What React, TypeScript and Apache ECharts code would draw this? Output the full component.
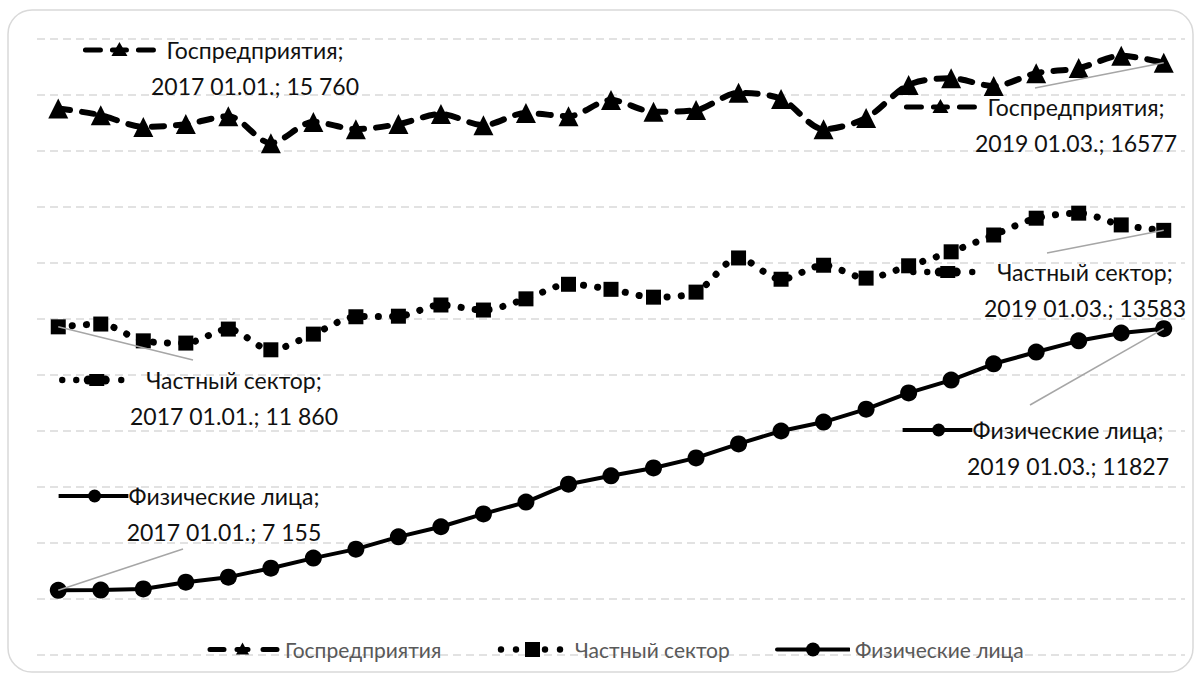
import React, { useEffect, useRef } from "react";
import * as echarts from "echarts";

const categories = [
  "2017 01.01.", "2017 01.02.", "2017 01.03.", "2017 01.04.", "2017 01.05.", "2017 01.06.",
  "2017 01.07.", "2017 01.08.", "2017 01.09.", "2017 01.10.", "2017 01.11.", "2017 01.12.",
  "2018 01.01.", "2018 01.02.", "2018 01.03.", "2018 01.04.", "2018 01.05.", "2018 01.06.",
  "2018 01.07.", "2018 01.08.", "2018 01.09.", "2018 01.10.", "2018 01.11.", "2018 01.12.",
  "2019 01.01.", "2019 01.02.", "2019 01.03.",
];

const govValues = [
  15760, 15640, 15430, 15480, 15620, 15140, 15520, 15390, 15480, 15660, 15460, 15680, 15620, 15910,
  15700, 15730, 16040, 15930, 15390, 15590, 16180, 16300, 16160, 16390, 16480, 16700, 16577,
];
const privateValues = [
  11860, 11910, 11610, 11570, 11820, 11450, 11730, 12040, 12050, 12250, 12160, 12360, 12620, 12530,
  12390, 12480, 13090, 12710, 12960, 12730, 12950, 13200, 13500, 13800, 13890, 13680, 13583,
];
const physValues = [
  7155, 7160, 7180, 7300, 7390, 7550, 7730, 7890, 8110, 8290, 8520, 8730, 9050, 9200, 9340, 9520,
  9770, 10000, 10160, 10390, 10680, 10910, 11200, 11410, 11610, 11750, 11827,
];

const seriesNames = ["Госпредприятия", "Частный сектор", "Физические лица"];

const FONT = "Lato, 'Open Sans', sans-serif";
const LABEL_SIZE = 23;

const svgUrl = (s: string) => "data:image/svg+xml;charset=utf-8," + encodeURIComponent(s);

const govKey = svgUrl(
  "<svg xmlns='http://www.w3.org/2000/svg' width='85' height='20'>" +
    "<path d='M4 10H19 M31 10H45 M57 10H72' stroke='#000' stroke-width='5' stroke-linecap='round' fill='none'/>" +
    "<polygon points='38,2 46,16 30,16' fill='#000'/></svg>"
);
const privKey = svgUrl(
  "<svg xmlns='http://www.w3.org/2000/svg' width='88' height='20'>" +
    "<circle cx='4' cy='10' r='3.2' fill='#000'/><circle cx='18' cy='10' r='3.2' fill='#000'/>" +
    "<circle cx='30' cy='10' r='4.5' fill='#000'/><circle cx='47' cy='10' r='4.5' fill='#000'/>" +
    "<rect x='31' y='4' width='15' height='12' fill='#000'/>" +
    "<circle cx='63' cy='10' r='3.2' fill='#000'/></svg>"
);
const physKey = svgUrl(
  "<svg xmlns='http://www.w3.org/2000/svg' width='72' height='20'>" +
    "<path d='M2 10H72' stroke='#000' stroke-width='4' fill='none'/>" +
    "<circle cx='38' cy='10' r='6.5' fill='#000'/></svg>"
);

// legend icons (75 x 20)
const govLegend = svgUrl(
  "<svg xmlns='http://www.w3.org/2000/svg' width='75' height='20'>" +
    "<path d='M5 10H19 M32 10H43 M58 10H72' stroke='#000' stroke-width='5' stroke-linecap='round' fill='none'/>" +
    "<polygon points='37.5,3 44,15 31,15' fill='#000'/></svg>"
);
const privLegend = svgUrl(
  "<svg xmlns='http://www.w3.org/2000/svg' width='75' height='20'>" +
    "<circle cx='6' cy='10' r='3.2' fill='#000'/><circle cx='21' cy='10' r='3.2' fill='#000'/>" +
    "<rect x='30' y='2.5' width='15' height='15' fill='#000'/>" +
    "<circle cx='50' cy='10' r='3.2' fill='#000'/><circle cx='65' cy='10' r='3.2' fill='#000'/></svg>"
);
const physLegend = svgUrl(
  "<svg xmlns='http://www.w3.org/2000/svg' width='75' height='20'>" +
    "<path d='M2 10H74' stroke='#000' stroke-width='4' stroke-linecap='round' fill='none'/>" +
    "<circle cx='38' cy='10' r='7' fill='#000'/></svg>"
);

const keys = [
  { img: govKey, w: 85, legend: govLegend, legendLeft: 200 },
  { img: privKey, w: 88, legend: privLegend, legendLeft: 490 },
  { img: physKey, w: 72, legend: physLegend, legendLeft: 770 },
];

// label block centres (layout only)
const labelPos: Record<string, [number, number]> = {
  "0-0": [255, 68],
  "0-26": [1076, 125],
  "1-0": [234, 398],
  "1-26": [1085, 290],
  "2-0": [224, 514],
  "2-26": [1068, 448],
};

// far ends of leader lines (layout only); near ends are the data points
const leaderEnds: Record<string, [number, number]> = {
  "0-26": [1035, 88],
  "1-0": [193, 360],
  "1-26": [1047, 253],
  "2-0": [183, 549],
  "2-26": [1030, 405],
};

const fmtGrouped = (v: number) => {
  const s = String(v);
  return s.length > 3 ? s.slice(0, s.length - 3) + " " + s.slice(s.length - 3) : s;
};

function buildSeries(idx: number, values: number[], extra: any) {
  const last = values.length - 1;
  const k = keys[idx];
  const leaders: any[] = [];
  [0, last].forEach((i) => {
    const end = leaderEnds[`${idx}-${i}`];
    if (end) leaders.push([{ coord: [categories[i], values[i]] }, { x: end[0], y: end[1] }]);
  });
  return {
    name: seriesNames[idx],
    type: "line",
    data: values.map((v, i) => {
      if (i === 0 || i === last) {
        return { value: v, label: { show: true } };
      }
      return v;
    }),
    itemStyle: { color: "#000" },
    label: {
      show: false,
      color: "#111",
      fontFamily: FONT,
      fontSize: LABEL_SIZE,
      lineHeight: 36,
      align: "center",
      formatter: (p: any) => {
        const val = p.dataIndex === 0 ? fmtGrouped(p.value) : String(p.value);
        return `{k| }{t|${seriesNames[idx]};}{s| }\n{t|${p.name}; ${val}}`;
      },
      rich: {
        k: { width: k.w, height: 20, backgroundColor: { image: k.img } },
        s: { width: k.w, height: 20 },
        t: { fontFamily: FONT, fontSize: LABEL_SIZE, color: "#111", lineHeight: 36 },
      },
    },
    labelLayout: (p: any) => {
      const pos = labelPos[`${p.seriesIndex}-${p.dataIndex}`];
      if (!pos) return {};
      return { x: pos[0], y: pos[1], align: "center", verticalAlign: "middle" };
    },
    markLine: {
      silent: true,
      symbol: "none",
      label: { show: false },
      lineStyle: { color: "#a6a6a6", width: 1.5, type: "solid" },
      data: leaders,
    },
    z: 3 - idx,
    ...extra,
  };
}

export default function App() {
  const ref = useRef<HTMLDivElement>(null);
  useEffect(() => {
    const chart = echarts.init(ref.current!, null, { renderer: "svg" });
    chart.setOption({
      animation: false,
      backgroundColor: "#fff",
      textStyle: { fontFamily: FONT },
      graphic: [
        {
          type: "rect",
          shape: { x: 8, y: 10, width: 1185, height: 662, r: 24 },
          style: { fill: "none", stroke: "#d9d9d9", lineWidth: 1.5 },
          silent: true,
          z: -10,
        },
      ],
      grid: { left: 37, right: 18, top: 39, bottom: 21, containLabel: false },
      xAxis: {
        type: "category",
        data: categories,
        boundaryGap: true,
        axisLine: { show: false },
        axisTick: { show: false },
        axisLabel: { show: false },
        splitLine: { show: false },
      },
      yAxis: {
        type: "value",
        min: 6000,
        max: 17000,
        interval: 1000,
        axisLine: { show: false },
        axisTick: { show: false },
        axisLabel: { show: false },
        splitLine: { show: true, lineStyle: { color: "#d9d9d9", width: 1.5, type: [8, 5] } },
      },
      legend: keys.map((k, i) => ({
        data: [{ name: seriesNames[i], icon: "image://" + k.legend }],
        left: k.legendLeft,
        top: 634,
        itemWidth: 75,
        itemHeight: 20,
        itemGap: 0,
        textStyle: { color: "#595959", fontSize: 21, fontFamily: FONT },
      })),
      series: [
        buildSeries(0, govValues, {
          smooth: 0.3,
          symbol: "triangle",
          symbolSize: 20,
          lineStyle: { color: "#000", width: 6, type: [12, 12], cap: "round" },
        }),
        buildSeries(1, privateValues, {
          smooth: 0.3,
          symbol: "rect",
          symbolSize: 15,
          lineStyle: { color: "#000", width: 7, type: [0.1, 14], cap: "round" },
        }),
        buildSeries(2, physValues, {
          smooth: false,
          symbol: "circle",
          symbolSize: 17,
          lineStyle: { color: "#000", width: 4 },
        }),
      ],
    });
    return () => chart.dispose();
  }, []);
  return (
    <div
      ref={ref}
      style={{ position: "absolute", left: 0, top: 0, width: 1203, height: 676 }}
    />
  );
}
